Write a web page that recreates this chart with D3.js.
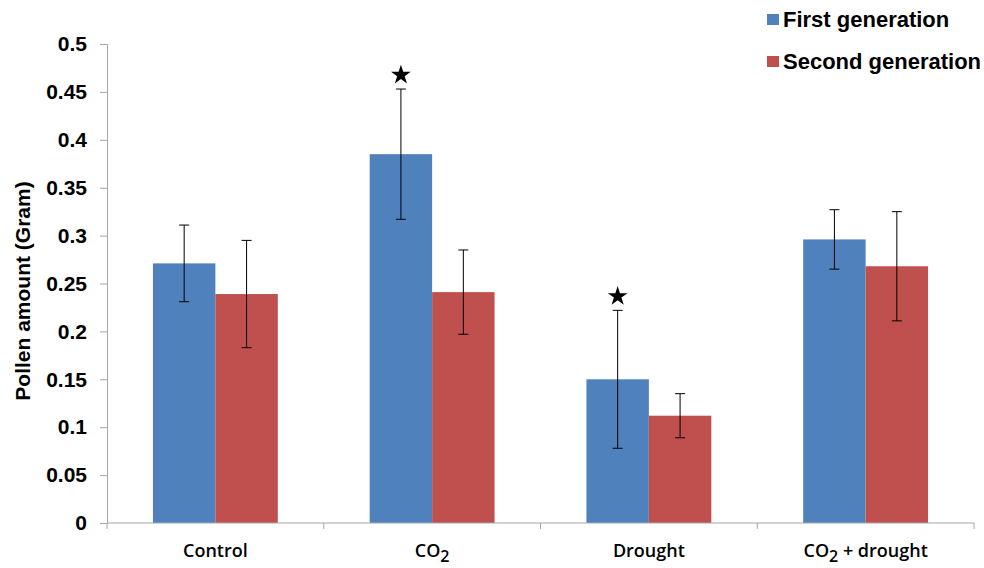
<!DOCTYPE html>
<html>
<head>
<meta charset="utf-8">
<script src="https://cdn.jsdelivr.net/npm/d3@7"></script>
<style>
  body { margin: 0; background: #fff; }
</style>
</head>
<body>
<div id="chart"></div>
<script>
// data
const categories = ["Control", "CO2", "Drought", "CO2 + drought"];
const seriesNames = ["First generation", "Second generation"];
const firstGen = [0.271, 0.385, 0.150, 0.296];
const firstErr = [0.040, 0.068, 0.072, 0.031];
const secondGen = [0.239, 0.241, 0.112, 0.268];
const secondErr = [0.056, 0.044, 0.023, 0.057];
const starred = [false, true, true, false]; // first generation only
const yTicks = [0, 0.05, 0.1, 0.15, 0.2, 0.25, 0.3, 0.35, 0.4, 0.45, 0.5];
const colors = ["#4F81BD", "#C0504D"];

let margin = { top: 44, right: 10, bottom: 45, left: 107 },
    width = 984 - margin.left - margin.right,
    height = 568 - margin.top - margin.bottom;

let svg = d3.select("#chart")
    .append("svg")
    .attr("width", 984)
    .attr("height", 568)
    .append("g")
    .attr("transform", "translate(" + margin.left + "," + margin.top + ")");

let x = d3.scaleBand()
    .domain(categories)
    .range([0, width])
    .paddingInner(0)
    .paddingOuter(0);

let inner = d3.scaleBand()
    .domain([0, 1])
    .range([x.bandwidth() * 0.212, x.bandwidth() * 0.788]);

let y = d3.scaleLinear()
    .domain([0, 0.5])
    .range([height, 0]);

// y axis
let yAxis = svg.append("g")
    .call(d3.axisLeft(y).tickValues(yTicks).tickSize(7).tickPadding(13)
        .tickFormat(d => d3.format("")(+d.toFixed(2))));
yAxis.select(".domain").attr("stroke", "#a6a6a6");
yAxis.selectAll(".tick line").attr("stroke", "#a6a6a6");
yAxis.selectAll(".tick text")
    .attr("font-family", "Liberation Sans, Arial, sans-serif")
    .attr("font-size", 21)
    .attr("font-weight", "bold")
    .attr("fill", "#000");

// y title
svg.append("text")
    .attr("transform", "translate(" + (22 - margin.left) + "," + (291 - margin.top) + ") rotate(-90)")
    .attr("text-anchor", "middle")
    .attr("dominant-baseline", "central")
    .attr("font-family", "Liberation Sans, Arial, sans-serif")
    .attr("font-size", 21)
    .attr("font-weight", "bold")
    .text("Pollen amount (Gram)");

// bars
let rows = categories.map((c, i) => ({
    cat: c,
    vals: [
        { s: 0, v: firstGen[i], e: firstErr[i], star: starred[i] },
        { s: 1, v: secondGen[i], e: secondErr[i], star: false }
    ]
}));

let groups = svg.selectAll(".grp")
    .data(rows)
    .enter()
    .append("g")
    .attr("transform", d => "translate(" + x(d.cat) + ",0)");

groups.selectAll("rect")
    .data(d => d.vals)
    .enter()
    .append("rect")
    .attr("x", d => inner(d.s))
    .attr("width", inner.bandwidth())
    .attr("y", d => y(d.v))
    .attr("height", d => height - y(d.v))
    .attr("fill", d => colors[d.s]);

// error bars
let err = groups.selectAll(".err")
    .data(d => d.vals)
    .enter()
    .append("g")
    .attr("stroke", "#000")
    .attr("stroke-width", 1);
err.append("line")
    .attr("x1", d => inner(d.s) + inner.bandwidth() / 2)
    .attr("x2", d => inner(d.s) + inner.bandwidth() / 2)
    .attr("y1", d => y(d.v + d.e))
    .attr("y2", d => y(d.v - d.e));
err.append("line")
    .attr("x1", d => inner(d.s) + inner.bandwidth() / 2 - 5)
    .attr("x2", d => inner(d.s) + inner.bandwidth() / 2 + 5)
    .attr("y1", d => y(d.v + d.e))
    .attr("y2", d => y(d.v + d.e));
err.append("line")
    .attr("x1", d => inner(d.s) + inner.bandwidth() / 2 - 5)
    .attr("x2", d => inner(d.s) + inner.bandwidth() / 2 + 5)
    .attr("y1", d => y(d.v - d.e))
    .attr("y2", d => y(d.v - d.e));

// stars
groups.selectAll(".star")
    .data(d => d.vals.filter(v => v.star))
    .enter()
    .append("path")
    .attr("d", d3.symbol().type(d3.symbolStar).size(120))
    .attr("transform", d => "translate(" + (inner(d.s) + inner.bandwidth() / 2) + "," + (y(d.v + d.e) - 14) + ")")
    .attr("fill", "#000");

// x axis
let xAxis = svg.append("g")
    .attr("transform", "translate(0," + height + ")");
xAxis.append("line")
    .attr("x1", 0).attr("x2", width)
    .attr("stroke", "#a6a6a6");
xAxis.selectAll(".xt")
    .data(categories.concat([null]))
    .enter()
    .append("line")
    .attr("x1", (d, i) => i < categories.length ? x(d) : width)
    .attr("x2", (d, i) => i < categories.length ? x(d) : width)
    .attr("y1", 0).attr("y2", 6)
    .attr("stroke", "#a6a6a6");

let labels = xAxis.selectAll(".xl")
    .data(categories)
    .enter()
    .append("text")
    .attr("x", d => x(d) + x.bandwidth() / 2)
    .attr("y", 34)
    .attr("text-anchor", "middle")
    .attr("font-family", "Open Sans, sans-serif")
    .attr("font-size", 18)
    .attr("font-weight", 600)
    .attr("fill", "#000");
labels.each(function (d) {
    let t = d3.select(this);
    if (d.startsWith("CO2")) {
        t.append("tspan").text("CO");
        t.append("tspan").attr("baseline-shift", "-30%").attr("font-size", 16).text("2");
        t.append("tspan").text(d.slice(3));
    } else {
        t.text(d);
    }
});

// legend
let legend = svg.append("g")
    .attr("transform", "translate(" + (767 - margin.left) + "," + (14 - margin.top) + ")");
seriesNames.forEach((n, i) => {
    let g = legend.append("g").attr("transform", "translate(0," + i * 42 + ")");
    g.append("rect").attr("width", 12).attr("height", 11).attr("fill", colors[i]);
    g.append("text")
        .attr("x", 16).attr("y", 5.5)
        .attr("dominant-baseline", "central")
        .attr("font-family", "Liberation Sans, Arial, sans-serif")
        .attr("font-size", 22)
        .attr("font-weight", "bold")
        .text(n);
});
</script>
</body>
</html>
